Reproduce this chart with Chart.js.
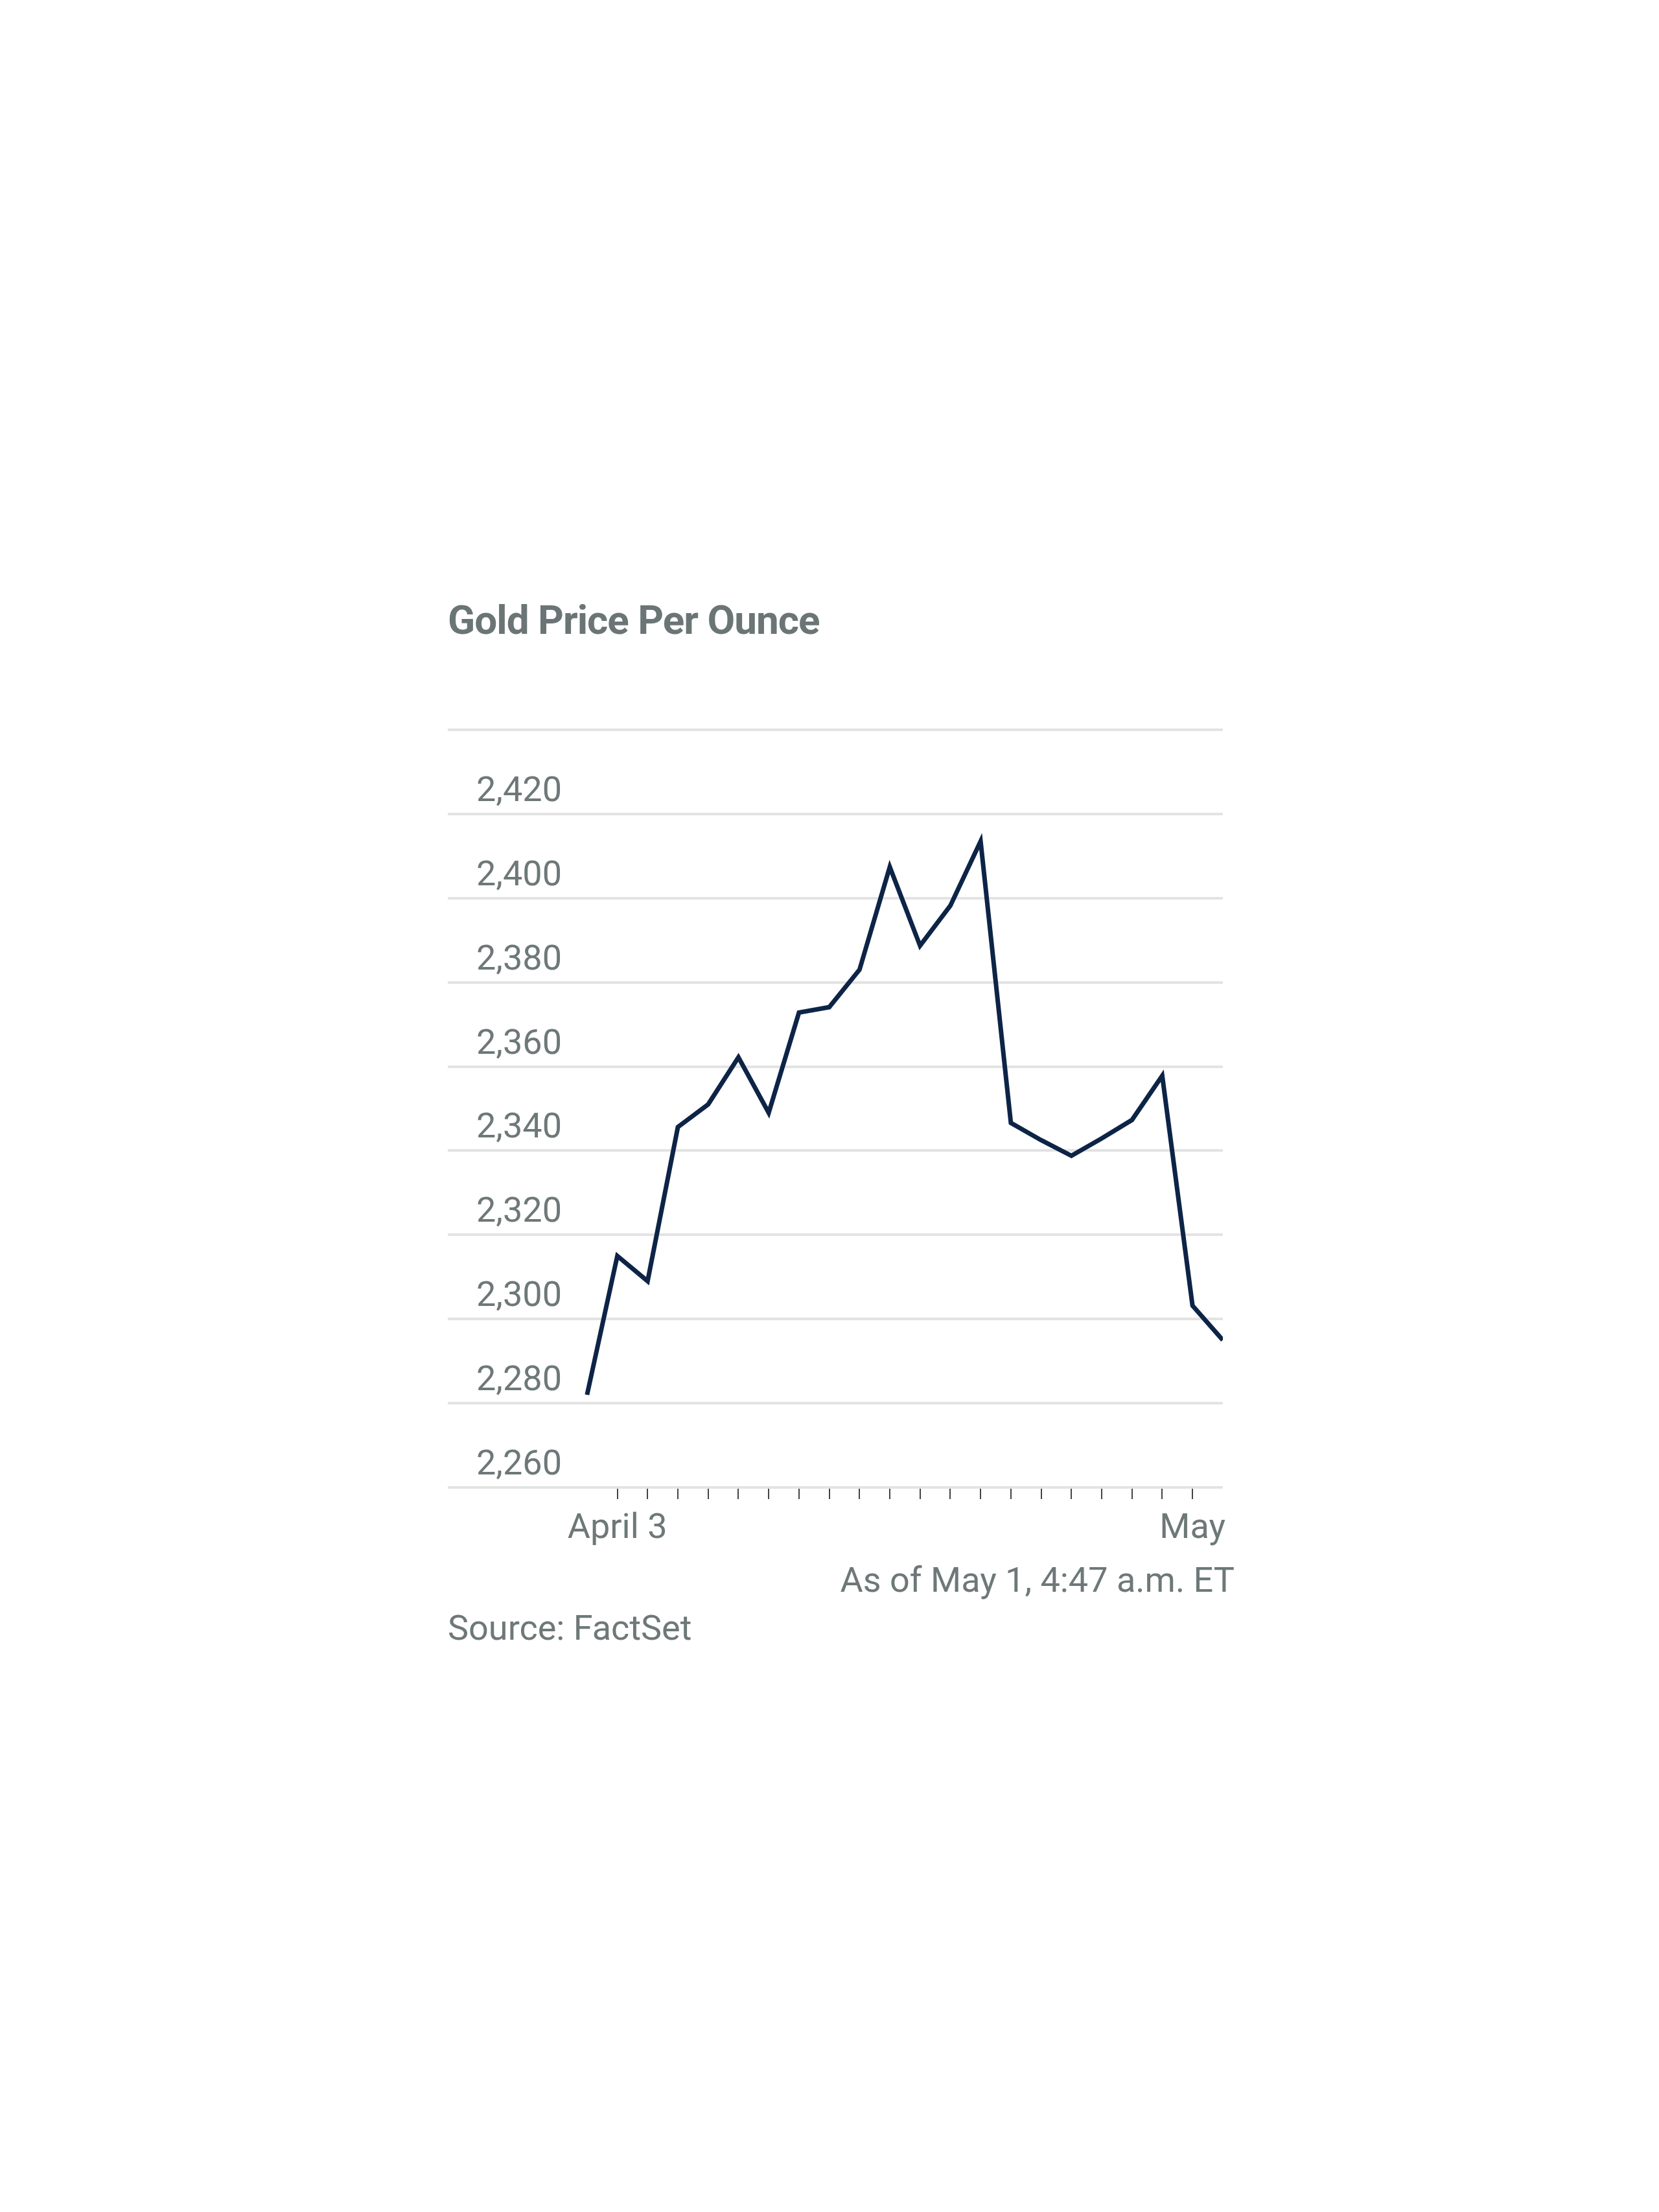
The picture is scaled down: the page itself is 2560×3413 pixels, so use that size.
<!DOCTYPE html>
<html>
<head>
<meta charset="utf-8">
<script src="https://cdn.jsdelivr.net/npm/chart.js@4"></script>
<style>
  body { margin: 0; background: #fff; width: 2560px; height: 3413px; position: relative; font-family: Roboto, "Liberation Sans", sans-serif; }
  .txt { position: absolute; color: #6e7878; white-space: nowrap; }
  #title { left: 691px; top: 920px; font-size: 62px; font-weight: bold; letter-spacing: -1px; color: #6b7575; }
  #asof { right: 655px; top: 2406px; font-size: 54px; }
  #source { left: 691px; top: 2480px; font-size: 54px; }
  #myChart { position: absolute; left: 691px; top: 1116px; }
</style>
</head>
<body>
<div class="txt" id="title">Gold Price Per Ounce</div>
<canvas id="myChart" width="1214" height="1289"></canvas>
<div class="txt" id="asof">As of May 1, 4:47 a.m. ET</div>
<div class="txt" id="source">Source: FactSet</div>
<script>
// trading day index (0 = April 2) and closing price
const dayIndex = [0, 1, 2, 3, 4, 5, 6, 7, 8, 9, 10, 11, 12, 13, 14, 15, 16, 17, 18, 19, 20, 21];
const prices = [2282, 2315, 2309, 2345.6, 2351, 2362.2, 2349, 2372.8, 2374.1, 2383, 2407.4, 2388.7,
                2398.2, 2413.5, 2346.6, 2342.5, 2338.8, 2342.9, 2347.3, 2357.8, 2303.2, 2295];
const xTickValues = [1, 2, 3, 4, 5, 6, 7, 8, 9, 10, 11, 12, 13, 14, 15, 16, 17, 18, 19, 20];
const xTickLabels = { 1: 'April 3', 20: 'May' };
const yTickValues = [2260, 2280, 2300, 2320, 2340, 2360, 2380, 2400, 2420, 2440];

const grey = '#6e7878';
const fontFamily = 'Roboto, "Liberation Sans", sans-serif';

// y labels sit above their gridlines, right aligned
const yLabels = {
  id: 'yLabels',
  afterDraw(chart) {
    const c = chart.ctx, y = chart.scales.y;
    c.save();
    c.fillStyle = grey;
    c.font = '54px ' + fontFamily;
    c.textAlign = 'right';
    c.textBaseline = 'alphabetic';
    yTickValues.forEach(v => {
      const s = v.toLocaleString('en-US');
      c.fillText(v === 2440 ? '$' + s : s, chart.chartArea.left + 176, y.getPixelForValue(v) - 20);
    });
    c.restore();
  }
};

const ctx = document.getElementById('myChart').getContext('2d');
new Chart(ctx, {
  type: 'line',
  data: {
    datasets: [{
      data: dayIndex.map((d, i) => ({ x: d, y: prices[i] })),
      borderColor: '#0d2447',
      borderWidth: 7,
      pointRadius: 0,
      tension: 0,
      fill: false
    }]
  },
  options: {
    responsive: false,
    devicePixelRatio: 1,
    animation: false,
    layout: { padding: { top: 10, left: 0, right: 0, bottom: 0 } },
    plugins: { legend: { display: false }, tooltip: { enabled: false } },
    scales: {
      x: {
        type: 'linear',
        min: -4.6,
        max: 21,
        afterBuildTicks: s => { s.ticks = xTickValues.map(v => ({ value: v })); },
        afterFit: s => { s.height = 110; },
        border: { display: false },
        grid: { drawOnChartArea: false, tickLength: 18, color: '#444', lineWidth: 2 },
        ticks: {
          autoSkip: false,
          maxRotation: 0,
          padding: 14,
          color: grey,
          font: { size: 54, family: fontFamily },
          callback: v => xTickLabels[v] || ''
        }
      },
      y: {
        min: 2260,
        max: 2440,
        afterBuildTicks: s => { s.ticks = yTickValues.map(v => ({ value: v })); },
        afterFit: s => { s.width = 0; },
        border: { display: false },
        grid: { color: '#e3e3e3', lineWidth: 4, drawTicks: false },
        ticks: { display: false }
      }
    }
  },
  plugins: [yLabels]
});
</script>
</body>
</html>
